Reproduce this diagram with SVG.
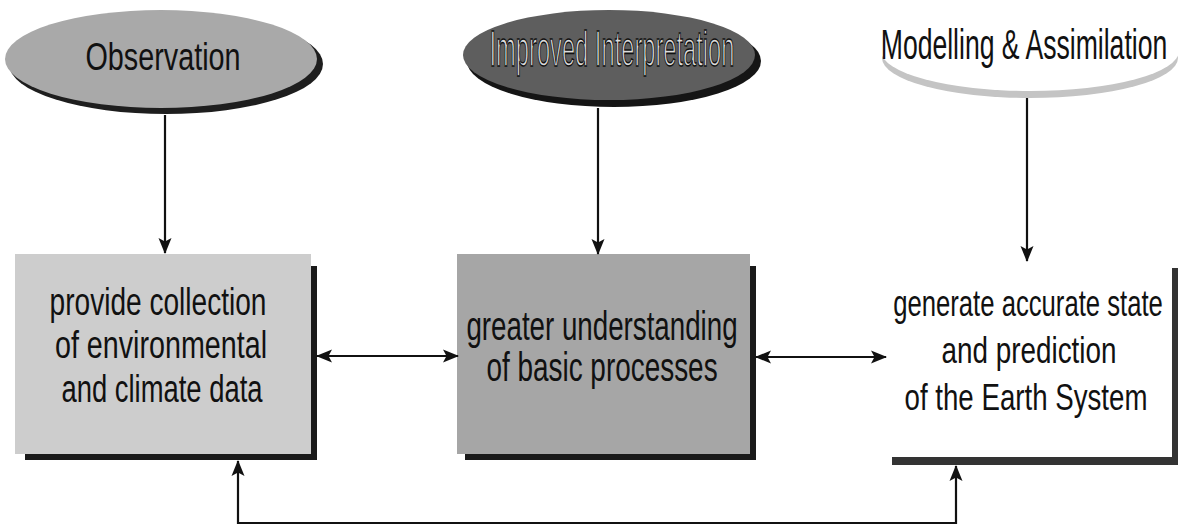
<svg xmlns="http://www.w3.org/2000/svg" width="1180" height="528" viewBox="0 0 1180 528">
<style>
.lbl{font-family:"Liberation Sans",Arial,sans-serif;fill:#111;text-anchor:middle}
.conn{stroke:#111;stroke-width:2.2;fill:none}
.bar{fill:#1a1a1a}
</style>
<defs>
<marker id="ah" markerUnits="userSpaceOnUse" markerWidth="16" markerHeight="16" viewBox="0 0 16 16" refX="15" refY="8" orient="auto-start-reverse">
<path d="M0,1.5 L16,8 L0,14.5 L3.5,8 Z" fill="#111"/>
</marker>
</defs>
<rect width="1180" height="528" fill="#fff"/>
<g id="observation">
<ellipse cx="166" cy="64" rx="157" ry="50" fill="#1e1e1e"/>
<ellipse cx="161" cy="59" rx="156" ry="49" fill="#a9a9a9"/>
<text class="lbl" font-size="39" transform="translate(163,70) scale(0.738,1)">Observation</text>
</g>
<g id="interpretation">
<ellipse cx="614" cy="61" rx="147" ry="46" fill="#151515"/>
<ellipse cx="609" cy="55" rx="146" ry="45" fill="#5e5e5e"/>
<text class="lbl" font-size="50" transform="translate(612,66) scale(0.474,1)" style="fill:#dcdcdc;stroke:#111;stroke-width:1.2" vector-effect="non-scaling-stroke">Improved Interpretation</text>
</g>
<g id="modelling">
<ellipse cx="1030" cy="58" rx="148" ry="40" fill="#c4c4c4"/>
<ellipse cx="1030" cy="51" rx="149" ry="40" fill="#fff"/>
<text class="lbl" font-size="42" transform="translate(1024,59) scale(0.633,1)">Modelling &amp; Assimilation</text>
</g>
<g id="box-collection">
<rect class="bar" x="310" y="266" width="7" height="194"/>
<rect class="bar" x="25" y="453" width="292" height="7"/>
<rect x="15" y="254" width="296" height="200" fill="#cdcdcd"/>
<text class="lbl" font-size="39" transform="translate(158,315) scale(0.72,1)">provide collection</text>
<text class="lbl" font-size="39" transform="translate(161,358) scale(0.736,1)">of environmental</text>
<text class="lbl" font-size="39" transform="translate(162,402) scale(0.703,1)">and climate data</text>
</g>
<g id="box-understanding">
<rect class="bar" x="750" y="266" width="6" height="194"/>
<rect class="bar" x="465" y="453" width="291" height="7"/>
<rect x="457" y="254" width="293" height="200" fill="#a6a6a6"/>
<text class="lbl" font-size="40" transform="translate(602,340) scale(0.693,1)">greater understanding</text>
<text class="lbl" font-size="40" transform="translate(602,381) scale(0.698,1)">of basic processes</text>
</g>
<g id="box-prediction">
<rect x="1172" y="268" width="6" height="197" fill="#333"/>
<rect x="892" y="457" width="286" height="8" fill="#333"/>
<text class="lbl" font-size="37" transform="translate(1028,316) scale(0.694,1)">generate accurate state</text>
<text class="lbl" font-size="37" transform="translate(1029,363) scale(0.753,1)">and prediction</text>
<text class="lbl" font-size="37" transform="translate(1026,410) scale(0.748,1)">of the Earth System</text>
</g>
<g id="connectors">
<path class="conn" d="M165,115 L165,253" marker-end="url(#ah)"/>
<path class="conn" d="M598,108 L598,254" marker-end="url(#ah)"/>
<path class="conn" d="M1027,98 L1027,261" marker-end="url(#ah)"/>
<path class="conn" d="M317,356 L458,356" marker-start="url(#ah)" marker-end="url(#ah)"/>
<path class="conn" d="M756,357 L886,357" marker-start="url(#ah)" marker-end="url(#ah)"/>
<path class="conn" d="M238,461 L238,523 L956,523 L956,466" marker-start="url(#ah)" marker-end="url(#ah)"/>
</g>
</svg>
